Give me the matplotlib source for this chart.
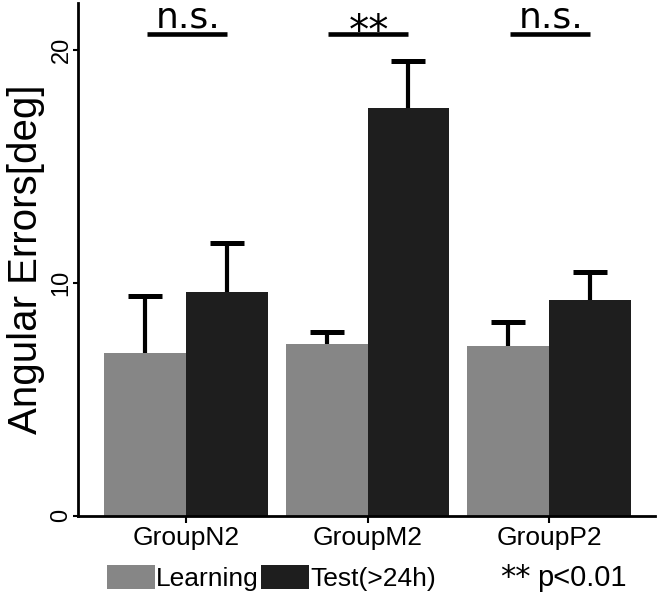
import matplotlib
matplotlib.use("Agg")
import matplotlib.pyplot as plt
import numpy as np
from matplotlib.patches import Patch

groups = ["GroupN2", "GroupM2", "GroupP2"]
learning = [7.0, 7.35, 7.3]
learning_err = [2.45, 0.55, 1.0]
test = [9.6, 17.5, 9.25]
test_err = [2.1, 2.0, 1.2]
sig_labels = ["n.s.", "**", "n.s."]
series_names = ["Learning", "Test(>24h)"]
colors = ["#868686", "#1e1e1e"]

plt.rcParams['font.family'] = ['Liberation Sans', 'DejaVu Sans']

fig = plt.figure(figsize=(6.61, 5.97), dpi=100)
ax = fig.add_axes([0.118, 0.136, 0.873, 0.859])

x = np.arange(len(groups))
w = 0.45
ax.bar(x - w/2, learning, w, color=colors[0], zorder=2)
ax.bar(x + w/2, test, w, color=colors[1], zorder=2)

for xs, vals, errs in [(x - w/2, learning, learning_err), (x + w/2, test, test_err)]:
    vals = np.asarray(vals)
    errs = np.asarray(errs)
    ax.errorbar(xs, vals, yerr=[np.zeros(len(vals)), errs], fmt='none', ecolor='black',
                elinewidth=3, capsize=0, zorder=1)
    ax.plot(xs, vals + errs, linestyle='none', marker='_', markersize=25,
            markeredgewidth=3.6, color='black', zorder=1)

sig_y = 20.69
for i, lab in enumerate(sig_labels):
    ax.plot([x[i] - w/2 + 0.01, x[i] + w/2], [sig_y, sig_y], color='black', lw=3.3,
            solid_capstyle='butt', clip_on=False)
    if lab == "**":
        ax.text(x[i] + 0.01, 20.25, lab, ha='center', va='baseline', fontsize=29,
                family='DejaVu Sans')
    else:
        ax.text(x[i] + 0.01, 20.95, lab, ha='center', va='baseline', fontsize=26,
                family='DejaVu Sans')

ax.set_xlim(-0.595, 2.584)
ax.set_ylim(0, 22)
ax.set_xticks(x)
ax.set_xticklabels(groups, fontsize=19)
ax.set_yticks([0, 10, 20])
ax.set_yticklabels(["0", "10", "20"], fontsize=17, rotation=90, va='center')
ax.set_ylabel("Angular Errors[deg]", fontsize=29, labelpad=4)

for s in ['top', 'right']:
    ax.spines[s].set_visible(False)
for s in ['left', 'bottom']:
    ax.spines[s].set_linewidth(2)
ax.tick_params(axis='x', width=1.5, length=5, pad=2)
ax.tick_params(axis='y', width=1.5, length=3.5, pad=0.5)

handles = [Patch(facecolor=c, edgecolor='none') for c in colors]
fig.legend(handles, series_names, loc='lower left', bbox_to_anchor=(0.142, -0.012),
           ncol=2, frameon=False, fontsize=19, handlelength=1.8, handleheight=1.0,
           handletextpad=0.05, columnspacing=0.1, borderaxespad=0.1)
fig.text(0.756, 0.018, "**", fontsize=22, ha='left', va='baseline', family='DejaVu Sans')
fig.text(0.812, 0.018, "p<0.01", fontsize=21, ha='left', va='baseline')

fig.savefig("out.png", dpi=100)
